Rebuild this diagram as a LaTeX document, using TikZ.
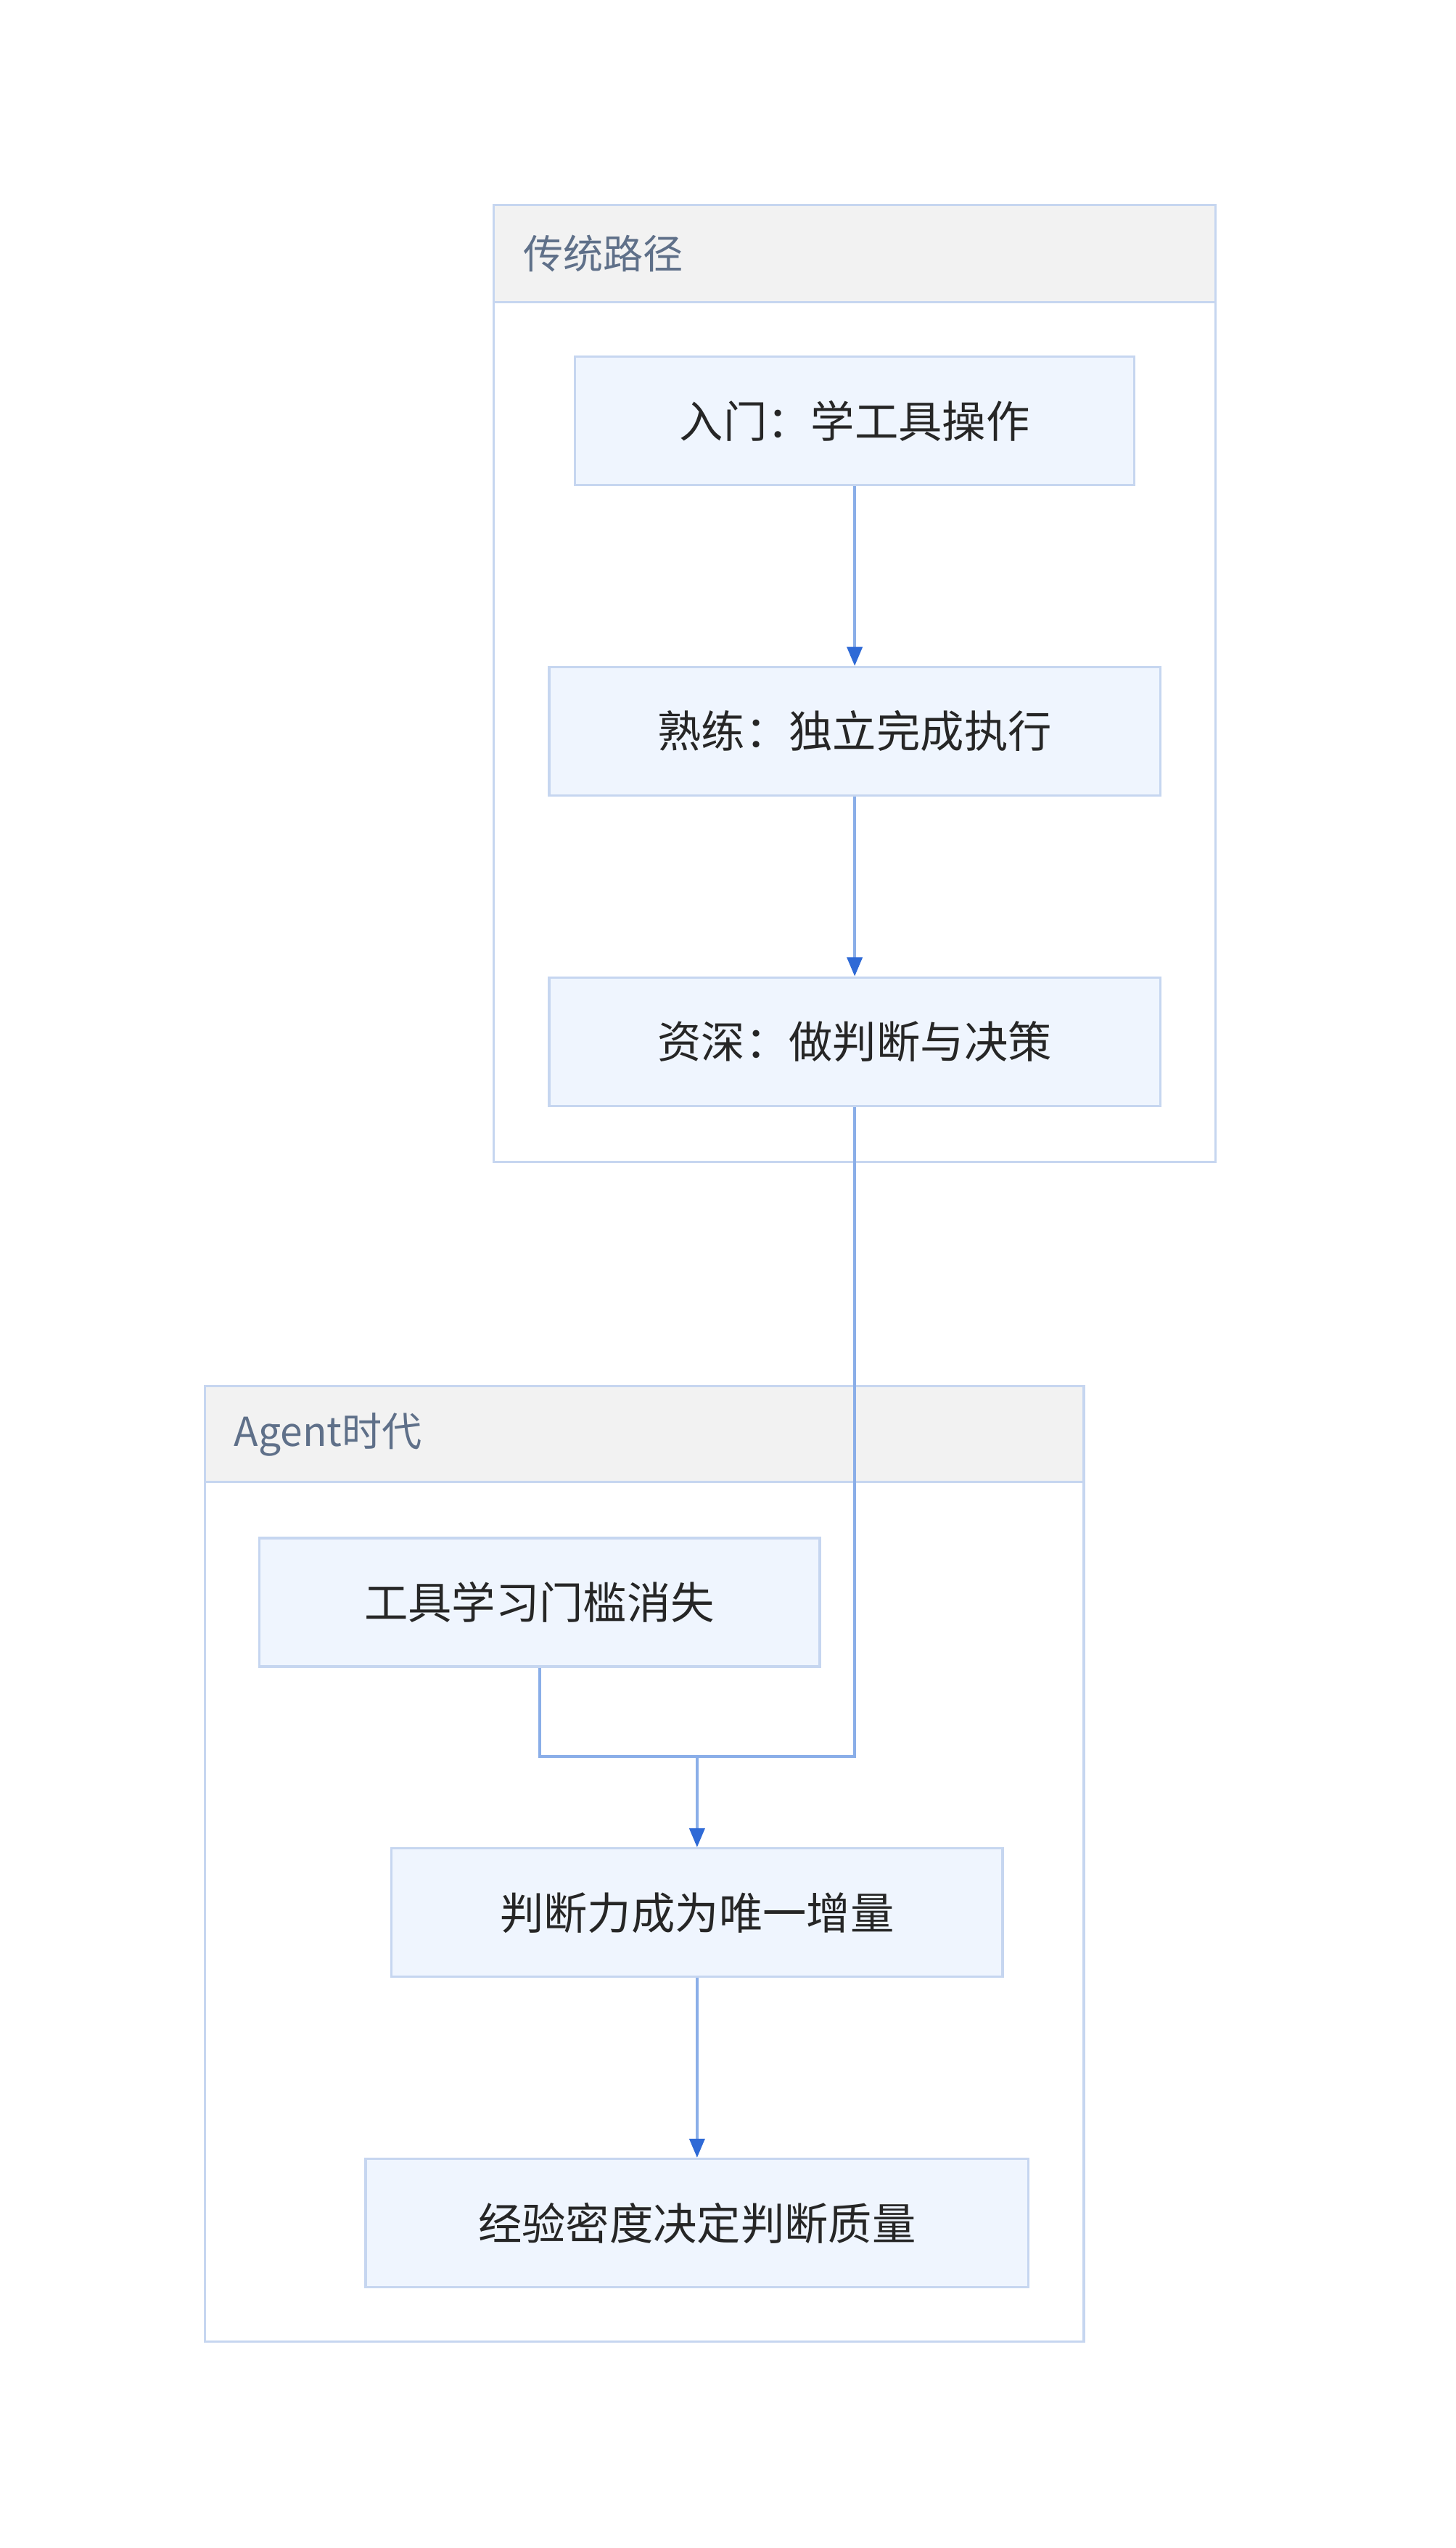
\documentclass[tikz,border=0pt]{standalone}
\usepackage{fontspec}
\setmainfont{Noto Sans CJK SC}
\usetikzlibrary{arrows.meta,positioning}
\definecolor{boxfill}{HTML}{EFF5FE}
\definecolor{boxline}{HTML}{C6D6F0}
\definecolor{headfill}{HTML}{F2F2F2}
\definecolor{linkblue}{HTML}{8AAEE8}
\definecolor{tipblue}{HTML}{2F6AD6}
\definecolor{titlegray}{HTML}{5F7089}
\tikzset{
  stage/.style={draw=boxline, fill=boxfill, line width=1.2pt, minimum height=2.37cm,
    font=\fontsize{23}{26}\selectfont, text=black!85},
  link/.style={draw=linkblue, line width=1.5pt},
  arrow/.style={link, -{Triangle[length=10pt,width=8pt,color=tipblue]}},
  group/.style={draw=boxline, line width=1.2pt},
  grouptitle/.style={anchor=west, font=\fontsize{21}{24}\selectfont, text=titlegray}
}
\begin{document}
\begin{tikzpicture}[x=0.03cm, y=-0.03cm]
    \useasboundingbox (0,0) rectangle (896,1568);

    % Traditional path group
    \fill[headfill] (304,126) rectangle (748,186);
    \draw[group] (304,126) rectangle (748,715);
    \draw[group] (304,186) -- (748,186);
    \node[grouptitle] (t1) at (318,156) {传统路径};

    % Agent group
    \fill[headfill] (126,853) rectangle (667,912);
    \draw[group] (126,853) rectangle (667,1441);
    \draw[group] (126,912) -- (667,912);
    \node[grouptitle] (t2) at (140,883) {Agent时代};

    % Stages
    \node[stage, minimum width=10.32cm] (entry) at (526,259) {入门：学工具操作};
    \node[stage, minimum width=11.28cm] (skilled) at (526,450) {熟练：独立完成执行};
    \node[stage, minimum width=11.28cm] (senior) at (526,641) {资深：做判断与决策};
    \node[stage, minimum width=10.35cm] (nobar) at (332,986) {工具学习门槛消失};
    \node[stage, minimum width=11.28cm] (judge) at (429,1177) {判断力成为唯一增量};
    \node[stage, minimum width=12.24cm] (density) at (429,1368) {经验密度决定判断质量};
    \coordinate (merge) at (429,1081);

    % Connectors
    \draw[arrow] (entry) -- (skilled);
    \draw[arrow] (skilled) -- (senior);
    \draw[link] (senior.south) |- (merge);
    \draw[link] (nobar.south) |- (merge);
    \draw[arrow] (merge) -- (judge.north);
    \draw[arrow] (judge) -- (density);
\end{tikzpicture}
\end{document}
